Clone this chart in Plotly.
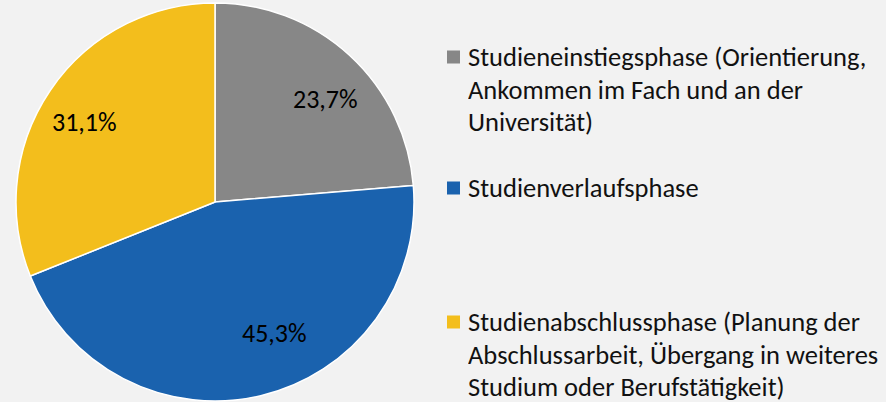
import math
import plotly.graph_objects as go

# data
phases = ["Studieneinstiegsphase", "Studienverlaufsphase", "Studienabschlussphase"]
shares = [23.7, 45.3, 31.1]
colors = ["#878787", "#1A62AE", "#F3BE1C"]
legend_lines = [
    ["Studieneinstiegsphase (Orientierung,", "Ankommen im Fach und an der", "Universität)"],
    ["Studienverlaufsphase"],
    ["Studienabschlussphase (Planung der", "Abschlussarbeit, Übergang in weiteres", "Studium oder Berufstätigkeit)"],
]

W, H = 886, 402
FONT = "Calibri, Carlito, Lato, sans-serif"
CX, CY, R = 215, 202, 199          # pie centre / radius in px
label_nudge = [(9, 7), (25, -14), (-7, 4)]  # Excel's best-fit label offsets

fig = go.Figure(go.Pie(
    labels=phases,
    values=shares,
    marker=dict(colors=colors, line=dict(color="white", width=1.5)),
    sort=False,
    direction="clockwise",
    rotation=0,
    textinfo="none",
    domain=dict(x=[(CX - R) / W, (CX + R) / W], y=[1 - (CY + R) / H, 1 - (CY - R) / H]),
    showlegend=False,
    hoverinfo="label+value",
))

# percentage labels at 3/4 radius on each slice's mid angle
total = sum(shares)
start = 0.0
for i, v in enumerate(shares):
    mid = (start + v / 2) / total * 2 * math.pi
    start += v
    px = CX + 0.75 * R * math.sin(mid) + label_nudge[i][0]
    py = CY - 0.75 * R * math.cos(mid) + label_nudge[i][1]
    fig.add_annotation(x=px / W, y=1 - py / H, xref="paper", yref="paper",
                       xanchor="center", yanchor="middle",
                       text=f"{v:.1f}%".replace(".", ","), showarrow=False,
                       font=dict(family=FONT, size=26, color="black"))

# legend drawn by hand so the line spacing matches
entry_top = [57, 188, 322]
line_h = 32.7
for i, lines in enumerate(legend_lines):
    y0 = entry_top[i]
    fig.add_shape(type="rect", xref="paper", yref="paper",
                  x0=447 / W, x1=460 / W,
                  y0=1 - (y0 + 6.5) / H, y1=1 - (y0 - 6.5) / H,
                  fillcolor=colors[i], line=dict(width=0))
    for j, txt in enumerate(lines):
        fig.add_annotation(x=467 / W, y=1 - (y0 + j * line_h) / H,
                           xref="paper", yref="paper", text=txt,
                           showarrow=False, xanchor="left", yanchor="middle",
                           height=28, borderpad=0,
                           font=dict(family=FONT, size=26.5, color="#111111"))

fig.update_layout(
    width=W, height=H,
    margin=dict(l=0, r=0, t=0, b=0),
    paper_bgcolor="#F2F2F2",
    plot_bgcolor="#F2F2F2",
    separators=",.",
)

fig.write_html("out.html", config={"displayModeBar": False},
               post_script="document.body.style.margin='0';")
